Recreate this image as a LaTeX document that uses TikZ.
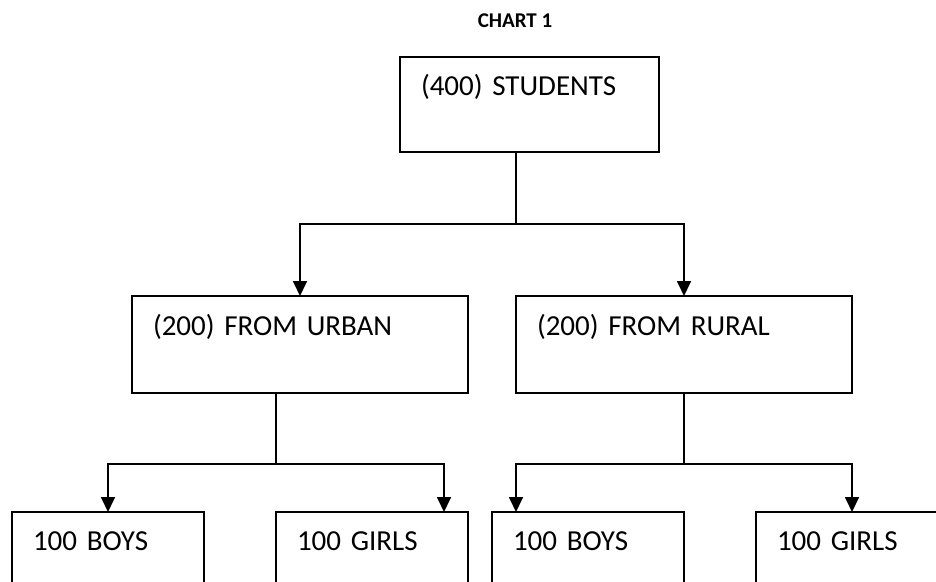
\documentclass[tikz,border=0pt]{standalone}
\usepackage{fontspec}
\setmainfont{Carlito}
\usetikzlibrary{arrows.meta,positioning}

\begin{document}
\begin{tikzpicture}[
  x=1pt,y=1pt,
  node distance=72pt,
  every node/.style={outer sep=0pt},
  unit/.style={draw,line width=1.8pt,inner xsep=21pt,inner ysep=0pt,align=left,
    text height=38pt,text depth=58pt,font=\fontsize{29}{35}\selectfont},
  wide/.style={unit,text width=294pt,text height=39pt},
  leaf/.style={unit,text width=150pt},
  link/.style={line width=1.8pt},
  arrow/.style={link,-{Triangle[length=15pt,width=14pt]}}
]
\clip (0,0) rectangle (936,-581);
\node[font=\bfseries\fontsize{21}{25}\selectfont,anchor=base] (title) at (515,-27) {CHART 1};
\node[unit,text width=217pt,text depth=57pt,anchor=north west] (stud) at (400,-57) {(400) STUDENTS};
\node[wide,anchor=north west] (urban) at (132,-296) {(200) FROM URBAN};
\node[wide,right=48pt of urban] (rural) {(200) FROM RURAL};
\node[leaf,anchor=north west] (boys1) at (12,-512) {100 BOYS};
\node[leaf,right=of boys1] (girls1) {100 GIRLS};
\node[leaf,right=24pt of girls1] (boys2) {100 BOYS};
\node[leaf,right=of boys2] (girls2) {100 GIRLS};
% forks
\coordinate (fork0) at (516,-224);
\coordinate (fork1) at (276,-464);
\coordinate (fork2) at (684,-464);
\draw[link] (stud.south -| fork0) -- (fork0);
\draw[arrow] (fork0) -| (urban.north);
\draw[arrow] (fork0) -| (rural.north);
\draw[link] (urban.south -| fork1) -- (fork1);
\draw[arrow] (fork1) -| (boys1.north);
\draw[arrow] (fork1) -| ([xshift=72pt]girls1.north);
\draw[link] (rural.south) -- (fork2);
\draw[arrow] (fork2) -| ([xshift=-72pt]boys2.north);
\draw[arrow] (fork2) -| (girls2.north);
\end{tikzpicture}
\end{document}
